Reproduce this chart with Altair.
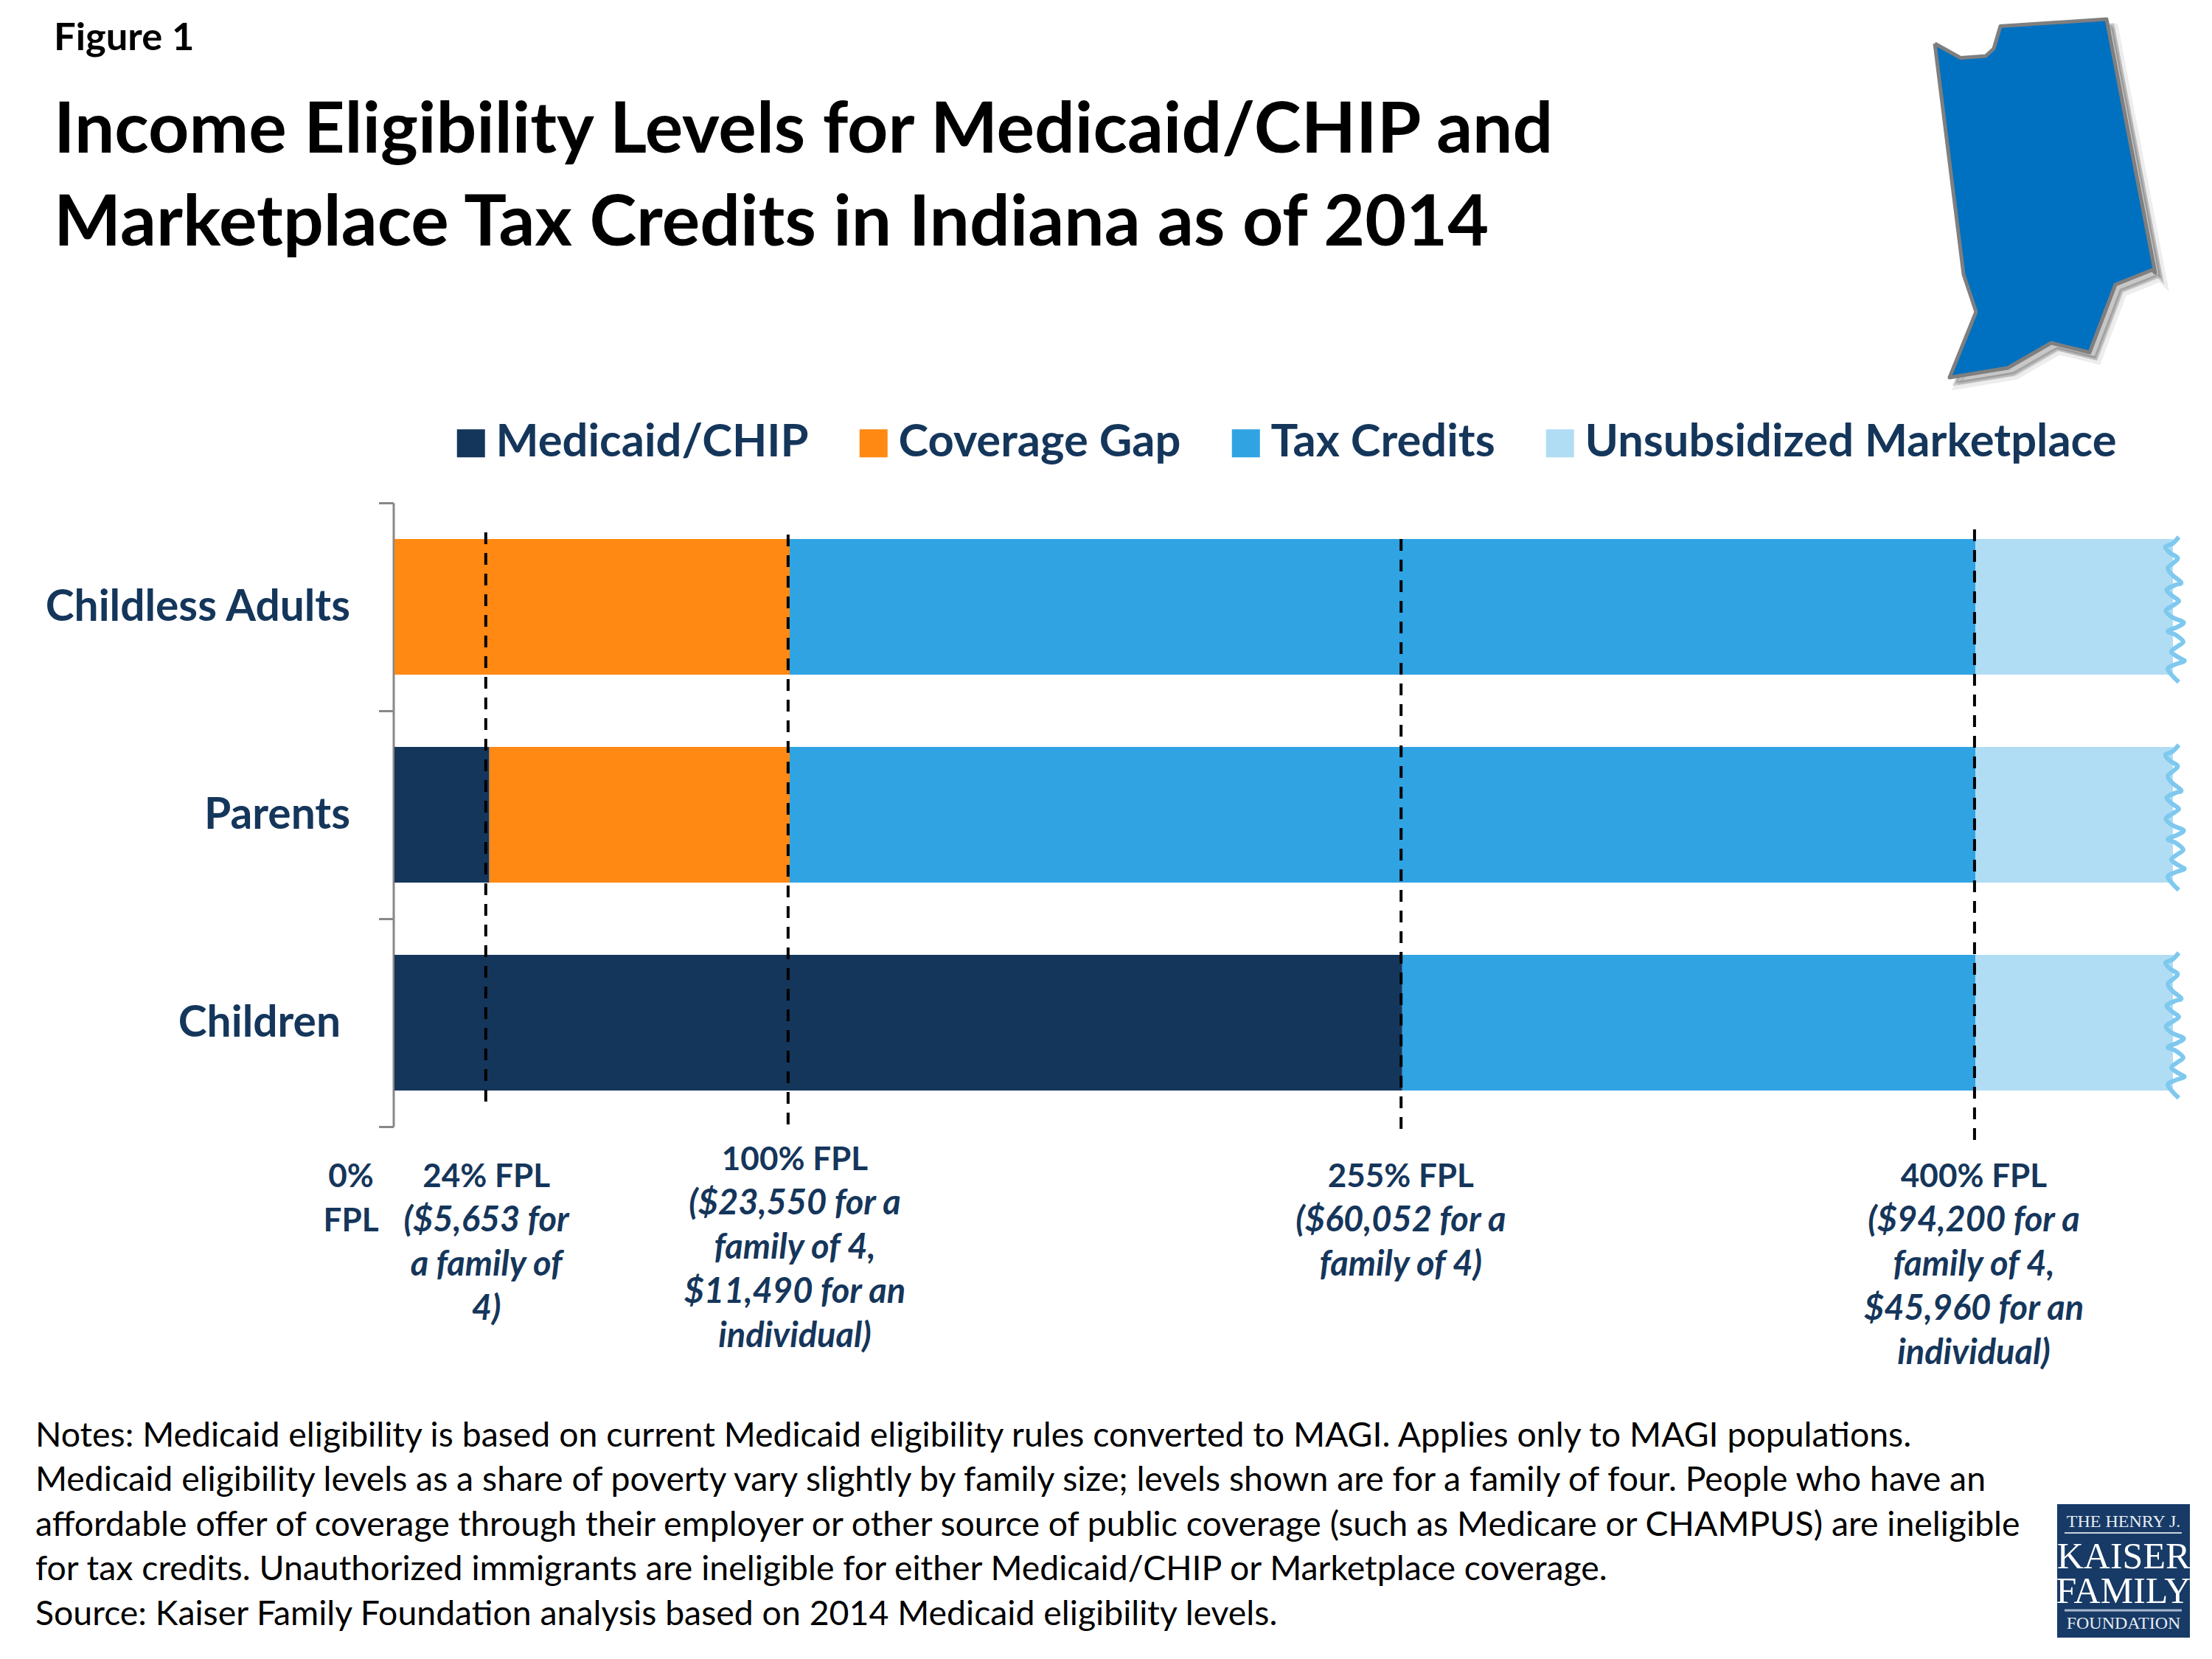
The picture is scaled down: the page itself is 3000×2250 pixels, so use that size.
import altair as alt
import pandas as pd

FONT = "Lato"
NAVY = "#15365B"

groups = ["Childless Adults", "Parents", "Children"]
segments = ["Medicaid/CHIP", "Coverage Gap", "Tax Credits", "Unsubsidized Marketplace"]
seg_colors = ["#15365B", "#FF8913", "#30A3E3", "#B0DDF4"]

bar_group = ["Childless Adults"] * 3 + ["Parents"] * 4 + ["Children"] * 3
bar_seg = ["Coverage Gap", "Tax Credits", "Unsubsidized Marketplace",
           "Medicaid/CHIP", "Coverage Gap", "Tax Credits", "Unsubsidized Marketplace",
           "Medicaid/CHIP", "Tax Credits", "Unsubsidized Marketplace"]
bar_start = [0, 100, 400, 0, 24, 100, 400, 0, 255, 400]
bar_end = [100, 400, 450, 24, 100, 400, 450, 255, 400, 450]

wave_pct = [451.5, 449.9, 448.1, 449.3, 451.2, 450.2, 448.7, 449.9, 452.1, 450.6, 448.4, 449.9,
            451.5, 449.9, 448.2, 449.9, 452.7, 451.2, 448.7, 450.6, 452.6, 451.2, 449.6, 451.5,
            452.9, 450.6, 448.7, 449.9, 451.5]
wave_row = [0.164, 0.196, 0.212, 0.241, 0.265, 0.288, 0.314, 0.348, 0.383, 0.395, 0.418, 0.448,
            0.472, 0.495, 0.519, 0.551, 0.574, 0.596, 0.617, 0.634, 0.667, 0.690, 0.716, 0.744,
            0.761, 0.777, 0.797, 0.832, 0.862]

line_pct = [23.1, 99.6, 254.7, 399.8]
line_top = [0.142, 0.1525, 0.174, 0.128]
line_bottom = [2.879, 2.989, 3.011, 3.064]

state_x = [2624, 2659, 2693, 2704, 2713, 2857, 2923, 2919, 2869, 2834, 2782, 2723, 2644, 2680, 2663]
state_y = [59, 78.5, 76, 66, 35.5, 26, 370, 366, 386, 478, 465, 499, 512, 423, 372]

title_lines = ["Income Eligibility Levels for Medicaid/CHIP and",
               "Marketplace Tax Credits in Indiana as of 2014"]
note_lines = [
    "Notes: Medicaid eligibility is based on current Medicaid eligibility rules converted to MAGI. Applies only to MAGI populations.",
    "Medicaid eligibility levels as a share of poverty vary slightly by family size; levels shown are for a family of four. People who have an",
    "affordable offer of coverage through their employer or other source of public coverage (such as Medicare or CHAMPUS) are ineligible",
    "for tax credits. Unauthorized immigrants are ineligible for either Medicaid/CHIP or Marketplace coverage.",
    "Source: Kaiser Family Foundation analysis based on 2014 Medicaid eligibility levels.",
]
fpl_labels = [
    (0, -59, 1610, ["0%", "FPL"], []),
    (24, -4, 1610, ["24% FPL"], ["($5,653 for", "a family of", "4)"]),
    (100, 7, 1587, ["100% FPL"], ["($23,550 for a", "family of 4,", "$11,490 for an", "individual)"]),
    (255, -2, 1610, ["255% FPL"], ["($60,052 for a", "family of 4)"]),
    (400, -2, 1610, ["400% FPL"], ["($94,200 for a", "family of 4,", "$45,960 for an", "individual)"]),
]

OX, OY = 535, 682   # plot-area origin inside the picture
W, H = 2412, 846

x_scale = alt.Scale(domain=[0, 450], nice=False, zero=False)
row_scale = alt.Scale(domain=[0, 3], reverse=True, nice=False, zero=False)
px_x = alt.Scale(domain=[OX, OX + W], nice=False, zero=False)
px_y = alt.Scale(domain=[OY, OY + H], reverse=True, nice=False, zero=False)
blank = alt.Data(values=[{"k": 0}])


def text(lines, x, y, size, color="#000000", weight="normal", style="normal", align="left",
         lh=None, font=FONT):
    kw = {"lineHeight": lh} if lh else {}
    return alt.Chart(blank).mark_text(
        text=lines, font=font, fontSize=size, fontWeight=weight, fontStyle=style,
        color=color, align=align, baseline="alphabetic", **kw
    ).encode(x=alt.value(x - OX), y=alt.value(y - OY))


bars = alt.Chart(pd.DataFrame({"group": bar_group, "segment": bar_seg,
                               "start": bar_start, "end": bar_end})).mark_bar(size=184).encode(
    x=alt.X("start:Q", scale=x_scale, axis=None),
    x2="end:Q",
    y=alt.Y("group:N", sort=groups,
            scale=alt.Scale(domain=groups, paddingInner=0, paddingOuter=0),
            axis=alt.Axis(title=None, tickBand="extent", tickSize=20, tickWidth=3, tickColor="#888888",
                          domainColor="#888888", domainWidth=3, offset=1.5, labelFont=FONT,
                          labelFontSize=58.7, labelFontWeight="bold", labelColor=NAVY,
                          labelPadding={"condition": {"test": "datum.value == 'Children'", "value": 52},
                                        "value": 39},
                          labelLimit=900, grid=False)),
    color=alt.Color("segment:N", scale=alt.Scale(domain=segments, range=seg_colors),
                    legend=alt.Legend(title=None, orient="none", legendX=73, legendY=-112,
                                      direction="horizontal", symbolType="square", symbolSize=1444,
                                      symbolStrokeWidth=0, labelFont=FONT, labelFontSize=61.5,
                                      labelFontWeight="bold", labelColor=NAVY, labelOffset=3,
                                      columnPadding=57, labelLimit=1200, padding=0)),
)

wave_rows = []
for g in range(3):
    for i, (p, r) in enumerate(zip(wave_pct, wave_row)):
        wave_rows.append({"g": g, "i": i, "pct": p, "row": r + g})
waves = alt.Chart(pd.DataFrame(wave_rows)).mark_line(
    color="#7FC8EE", strokeWidth=6, interpolate="cardinal", clip=False
).encode(
    x=alt.X("pct:Q", scale=x_scale, axis=None),
    y=alt.Y("row:Q", scale=row_scale, axis=None),
    detail="g:N",
    order="i:Q",
)

lines = alt.Chart(pd.DataFrame({"pct": line_pct, "top": line_top, "bottom": line_bottom})).mark_rule(
    color="#000000", strokeWidth=4, strokeDash=[16, 12]
).encode(
    x=alt.X("pct:Q", scale=x_scale, axis=None),
    y=alt.Y("top:Q", scale=row_scale, axis=None),
    y2="bottom:Q",
)


def state_layer(dx, dy, **mark):
    # the closed outline of the state, filled
    xs = state_x + state_x[:1]
    ys = state_y + state_y[:1]
    df = pd.DataFrame({"i": range(len(xs)), "sx": [v + dx for v in xs], "sy": [v + dy for v in ys]})
    return alt.Chart(df).mark_line(interpolate="linear", clip=False, **mark).encode(
        x=alt.X("sx:Q", scale=px_x, axis=None),
        y=alt.Y("sy:Q", scale=px_y, axis=None),
        order="i:Q",
    )


state = [
    state_layer(11, 11, fill="#000000", fillOpacity=0.07, stroke="#000000", strokeOpacity=0.07, strokeWidth=10),
    state_layer(8, 8, fill="#000000", fillOpacity=0.16, stroke="#000000", strokeOpacity=0.16, strokeWidth=5),
    state_layer(0, 0, fill="#0070C0", stroke="#7F7F7F", strokeWidth=5, strokeJoin="round"),
]

fpl_layers = []
for pct, dx, y0, head, body in fpl_labels:
    df = pd.DataFrame({"pct": [pct]})
    for lines_, yy, st, sz in [(head, y0, "normal", 44), (body, y0 + 60 * len(head), "italic", 47)]:
        if not lines_:
            continue
        fpl_layers.append(alt.Chart(df).mark_text(
            text=lines_, font=FONT, fontSize=sz, fontWeight="bold", fontStyle=st, color=NAVY,
            align="center", baseline="alphabetic", lineHeight=60, dx=dx
        ).encode(x=alt.X("pct:Q", scale=x_scale, axis=None), y=alt.value(yy - OY)))

logo = [
    alt.Chart(blank).mark_rect(color="#173A66").encode(
        x=alt.value(2790 - OX), x2=alt.value(2970 - OX), y=alt.value(2040 - OY), y2=alt.value(2221 - OY)),
    alt.Chart(blank).mark_rule(color="#C9D3E0", strokeWidth=2).encode(
        x=alt.value(2800 - OX), x2=alt.value(2959 - OX), y=alt.value(2079 - OY)),
    alt.Chart(blank).mark_rule(color="#A9B8CB", strokeWidth=3).encode(
        x=alt.value(2800 - OX), x2=alt.value(2959 - OX), y=alt.value(2184 - OY)),
    text(["THE HENRY J."], 2880, 2071, 24, color="#E6EBF2", align="center", font="Liberation Serif"),
    text(["KAISER"], 2880, 2127, 50, color="#FFFFFF", align="center", font="Liberation Serif"),
    text(["FAMILY"], 2880, 2174, 50, color="#FFFFFF", align="center", font="Liberation Serif"),
    text(["FOUNDATION"], 2880, 2209, 24, color="#E6EBF2", align="center", font="Liberation Serif"),
]

chart = alt.layer(
    bars, waves, lines, *state,
    text(["Figure 1"], 73, 68, 52.5, weight="bold"),
    text(title_lines, 73, 207, 96.5, weight="bold", lh=126),
    *fpl_layers,
    text(note_lines, 48, 1962, 46.4, lh=60.4),
    *logo,
).resolve_scale(y="independent", x="independent").properties(
    width=W, height=H,
    padding={"left": OX - 8, "top": OY - 8, "right": 2984 - (OX - 8) - W, "bottom": 2234 - (OY - 8) - H},
    autosize=alt.AutoSizeParams(type="none"),
    background="#FFFFFF",
).configure_view(stroke=None)

chart.save("out.html", embed_options={"renderer": "svg", "actions": False})
